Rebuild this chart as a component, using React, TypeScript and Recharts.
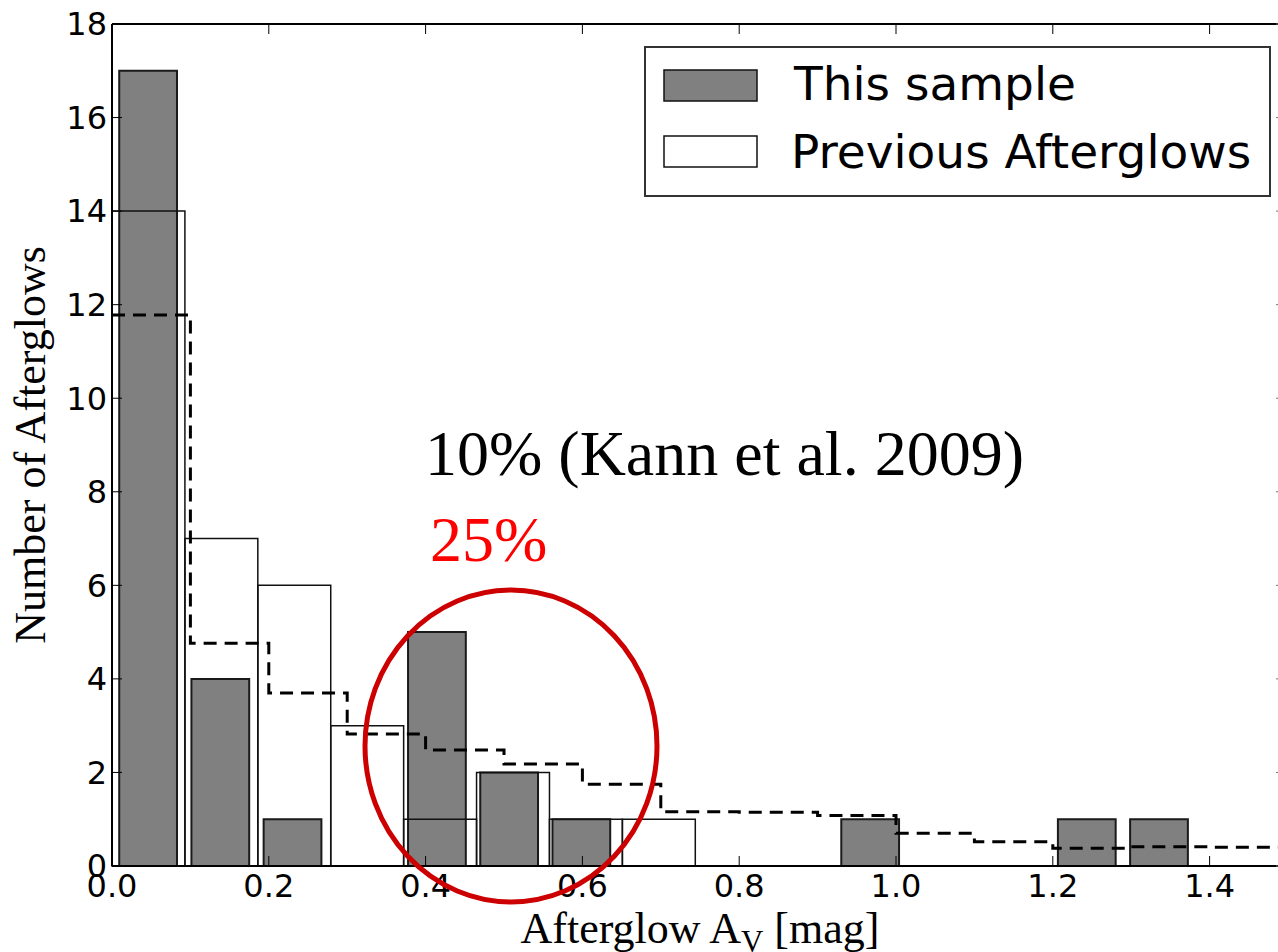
import { ComposedChart, XAxis, YAxis, Line, ReferenceArea } from "recharts";

// this sample: 15 histogram bins
const sampleEdges = [
  0, 0.0921, 0.1842, 0.2763, 0.3684, 0.4605, 0.5526, 0.6447, 0.7368, 0.8289,
  0.921, 1.0131, 1.1052, 1.1973, 1.2894, 1.3815,
];
const sampleCounts = [17, 4, 1, 0, 5, 2, 1, 0, 0, 0, 1, 0, 0, 1, 1];

// previous afterglows
const previousEdges = [0, 0.093, 0.186, 0.279, 0.372, 0.465, 0.558, 0.651, 0.744];
const previousCounts = [14, 7, 6, 3, 1, 2, 1, 1];

// dashed step curve (Kann et al. 2009)
const kannEdges = [0, 0.1, 0.2, 0.3, 0.4, 0.5, 0.6, 0.7, 0.8, 0.9, 1.0, 1.1, 1.2, 1.3, 1.4, 1.5];
const kannCounts = [11.78, 4.76, 3.7, 2.82, 2.48, 2.18, 1.75, 1.16, 1.15, 1.08, 0.7, 0.52, 0.38, 0.41, 0.4];

const xTicks = [0, 0.2, 0.4, 0.6, 0.8, 1.0, 1.2, 1.4];
const yTicks = [0, 2, 4, 6, 8, 10, 12, 14, 16, 18];

const kannData = kannEdges.map((x, i) => ({
  x,
  y: kannCounts[Math.min(i, kannCounts.length - 1)],
}));

const tickFont = { fontFamily: "DejaVu Sans", fontSize: 32, fill: "#000" };
const serif = "Liberation Serif, Times New Roman, serif";

export default function App() {
  return (
    <div
      style={{
        position: "absolute",
        left: 0,
        top: 0,
        width: 1278,
        height: 952,
        overflow: "hidden",
        background: "#fff",
      }}
    >
      <ComposedChart
        width={1300}
        height={952}
        data={kannData}
        margin={{ top: 0, right: 0, bottom: 46, left: 50 }}
      >
        <XAxis
          dataKey="x"
          type="number"
          domain={[0, 1.5]}
          ticks={xTicks}
          interval={0}
          allowDataOverflow
          height={40}
          tickFormatter={(v: number) => v.toFixed(1)}
          tick={tickFont}
          tickSize={-10}
          tickMargin={18}
          axisLine={{ stroke: "#000", strokeWidth: 2 }}
          tickLine={{ stroke: "#000", strokeWidth: 1 }}
        />
        <XAxis
          xAxisId="top"
          dataKey="x"
          orientation="top"
          type="number"
          domain={[0, 1.5]}
          ticks={xTicks}
          interval={0}
          allowDataOverflow
          height={24}
          tickFormatter={() => ""}
          tickSize={-10}
          axisLine={{ stroke: "#000", strokeWidth: 2 }}
          tickLine={{ stroke: "#000", strokeWidth: 1 }}
        />
        <YAxis
          type="number"
          domain={[0, 18]}
          ticks={yTicks}
          interval={0}
          allowDataOverflow
          width={62}
          tick={tickFont}
          tickSize={-10}
          tickMargin={15}
          axisLine={{ stroke: "#000", strokeWidth: 2 }}
          tickLine={{ stroke: "#000", strokeWidth: 1 }}
        />
        <YAxis
          yAxisId="right"
          dataKey="y"
          orientation="right"
          type="number"
          domain={[0, 18]}
          ticks={yTicks}
          interval={0}
          allowDataOverflow
          width={12}
          tickFormatter={() => ""}
          tickSize={-12}
          axisLine={{ stroke: "#000", strokeWidth: 2 }}
          tickLine={{ stroke: "#777", strokeWidth: 1 }}
        />

        {/* This sample: filled grey bars, 80% of the bin */}
        {sampleCounts.map((count, i) => {
          if (!count) return null;
          const w = sampleEdges[i + 1] - sampleEdges[i];
          return (
            <ReferenceArea
              key={"s" + i}
              x1={sampleEdges[i] + w * 0.1}
              x2={sampleEdges[i] + w * 0.9}
              y1={0}
              y2={count}
              fill="#808080"
              fillOpacity={1}
              stroke="#1a1a1a"
              strokeWidth={2}
              ifOverflow="visible"
            />
          );
        })}

        {/* Previous afterglows: open bars */}
        {previousCounts.map((count, i) => (
          <ReferenceArea
            key={"p" + i}
            x1={previousEdges[i]}
            x2={previousEdges[i + 1]}
            y1={0}
            y2={count}
            fill="none"
            stroke="#111"
            strokeWidth={1.5}
            ifOverflow="visible"
          />
        ))}

        <Line
          dataKey="y"
          type="stepAfter"
          stroke="#000"
          strokeWidth={3}
          strokeDasharray="13 8"
          dot={false}
          activeDot={false}
          isAnimationActive={false}
        />
      </ComposedChart>

      <svg
        width={1278}
        height={952}
        style={{ position: "absolute", left: 0, top: 0, pointerEvents: "none" }}
      >
        <text
          transform="translate(45,445) rotate(-90)"
          textAnchor="middle"
          fontFamily={serif}
          fontSize={44}
          fill="#000"
        >
          Number of Afterglows
        </text>
        <text x={700} y={943} textAnchor="middle" fontFamily={serif} fontSize={44} fill="#000">
          Afterglow A
          <tspan fontSize={31} dy={9}>V</tspan>
          <tspan dy={-9}>{"\u00a0[mag]"}</tspan>
        </text>

        {/* legend */}
        <rect x={645} y={47} width={625} height={149} fill="#fff" stroke="#333" strokeWidth={2} />
        <rect x={664} y={70} width={93} height={31} fill="#808080" stroke="#111" strokeWidth={1.5} />
        <rect x={664} y={136} width={93} height={31} fill="#fff" stroke="#111" strokeWidth={1.5} />
        <text x={794} y={100} fontFamily="DejaVu Sans" fontSize={47} fill="#000">
          This sample
        </text>
        <text x={791} y={168} fontFamily="DejaVu Sans" fontSize={47} fill="#000">
          Previous Afterglows
        </text>

        {/* annotations */}
        <text x={425} y={475} fontFamily={serif} fontSize={64} fill="#000">
          10% (Kann et al. 2009)
        </text>
        <text x={430} y={561} fontFamily={serif} fontSize={64} fill="#ff0000">
          25%
        </text>
        <ellipse cx={511} cy={746} rx={146} ry={156} fill="none" stroke="#cc0000" strokeWidth={5} />
      </svg>
    </div>
  );
}
